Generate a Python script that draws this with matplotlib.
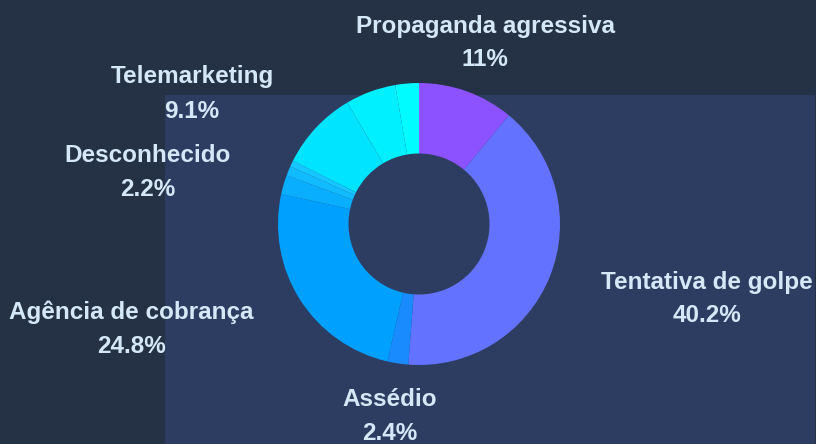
import matplotlib.pyplot as plt
from matplotlib.patches import Rectangle

# ================================================
# DATA
# ================================================
cats   = ['Propaganda agressiva', 'Tentativa de golpe', 'Assédio', 'Agência de cobrança',
          'Desconhecido', 'Outro A', 'Outro B', 'Telemarketing', 'Outro C', 'Outro D']
vals   = [11.0, 40.2, 2.4, 24.8, 2.2, 1.1, 0.7, 9.1, 5.8, 2.7]
shown  = [True, True, True, True, True, False, False, True, False, False]
colors = ['#8c52ff', '#6473ff', '#1a8aff', '#00a0ff', '#0aaeff', '#10bbff',
          '#16c6ff', '#00e4ff', '#00f0ff', '#00fcff']

# label anchor positions in pixels (x centre, y of first line from top)
lab_px = {'Propaganda agressiva': (485, 26), 'Tentativa de golpe': (707, 282),
          'Assédio': (390, 399), 'Agência de cobrança': (131, 312),
          'Desconhecido': (148, 155), 'Telemarketing': (192, 77)}

W, H = 816, 444
bg_out = '#253246'
bg_in  = '#2d3d62'
txt_c  = '#d4e8f8'

fig = plt.figure(figsize=(W/100, H/100), dpi=100, facecolor=bg_out)
bg = fig.add_axes([0, 0, 1, 1], zorder=-5)
bg.axis('off')
bg.set_xlim(0, W)
bg.set_ylim(H, 0)
bg.add_patch(Rectangle((165, 95), 815-165, H-95, facecolor=bg_in, edgecolor='none'))

cx, cy, R = 419, 224, 141
ax = fig.add_axes([(cx-R)/W, (H-cy-R)/H, 2*R/W, 2*R/H], zorder=1)
ax.set_facecolor('none')
ax.pie(vals, colors=colors, startangle=90, counterclock=False, radius=1.0,
       wedgeprops=dict(width=0.5, edgecolor='none', linewidth=0))
ax.set_xlim(-1, 1)
ax.set_ylim(-1, 1)
ax.set_aspect('equal')
ax.axis('off')

for c, v, s in zip(cats, vals, shown):
    if not s:
        continue
    x, y = lab_px[c]
    fig.text(x/W, 1 - y/H, c, ha='center', va='center', color=txt_c,
             fontsize=17.5, fontweight='bold', family='Liberation Sans', zorder=5)
    fig.text(x/W, 1 - (y+34)/H, f"{v:g}%", ha='center', va='center', color=txt_c,
             fontsize=17.5, fontweight='bold', family='Liberation Sans', zorder=5)

plt.savefig('out.png', dpi=100, facecolor=bg_out)
plt.close()
